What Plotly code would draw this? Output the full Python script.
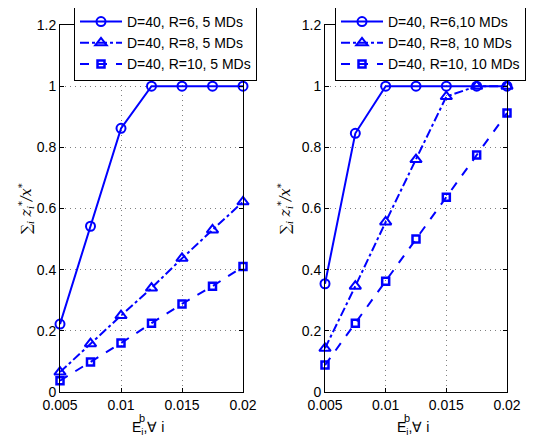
import plotly.graph_objects as go

x_vals = [0.005, 0.0075, 0.01, 0.0125, 0.015, 0.0175, 0.02]

left_r6 = [0.222, 0.542, 0.862, 1.0, 1.0, 1.0, 1.0]
left_r8 = [0.065, 0.158, 0.25, 0.34, 0.437, 0.53, 0.622]
left_r10 = [0.037, 0.098, 0.16, 0.225, 0.288, 0.346, 0.41]

right_r6 = [0.354, 0.846, 1.0, 1.0, 1.0, 1.0, 1.0]
right_r8 = [0.143, 0.346, 0.556, 0.76, 0.966, 1.0, 1.0]
right_r10 = [0.088, 0.225, 0.362, 0.50, 0.637, 0.775, 0.912]

left_names = ["D=40, R=6, 5 MDs", "D=40, R=8, 5 MDs", "D=40, R=10, 5 MDs"]
right_names = ["D=40, R=6,10 MDs", "D=40, R=8, 10 MDs", "D=40, R=10, 10 MDs"]

x_tickvals = [0.005, 0.01, 0.015, 0.02]
x_ticktext = ["0.005", "0.01", "0.015", "0.02"]
y_tickvals = [0, 0.2, 0.4, 0.6, 0.8, 1.0, 1.2]
y_ticktext = ["0", "0.2", "0.4", "0.6", "0.8", "1", "1.2"]

BLUE = "#0000FF"
FONT = "Liberation Sans, Arial, sans-serif"

styles = [
    dict(dash="solid", symbol="circle-open", size=9),
    dict(dash="dashdot", symbol="triangle-up-open", size=10),
    dict(dash="dash", symbol="square-open", size=7),
]

fig = go.Figure()

def add_series(ys, names, xa, ya, legend):
    for y, name, st in zip(ys, names, styles):
        fig.add_trace(go.Scatter(
            x=x_vals, y=y, name=name, mode="lines+markers",
            xaxis=xa, yaxis=ya, legend=legend, cliponaxis=False,
            line=dict(color=BLUE, width=2, dash=st["dash"]),
            marker=dict(symbol=st["symbol"], size=st["size"], color=BLUE,
                        line=dict(color=BLUE, width=2.5 if "square" in st["symbol"] else 2)),
        ))

add_series([left_r6, left_r8, left_r10], left_names, "x", "y", "legend")
add_series([right_r6, right_r8, right_r10], right_names, "x2", "y2", "legend2")

W, H = 538, 445
OFF = 8  # page body margin offset


def px(v):
    return (v - OFF) / W


def py(v):
    return 1 - (v - OFF) / H


ydom = [py(392), py(25)]

axis_common = dict(
    showline=True, linecolor="black", linewidth=1, mirror="ticks",
    ticks="inside", ticklen=4, tickcolor="black",
    showgrid=True, gridcolor="#808080", griddash="1px,4px", gridwidth=1,
    zeroline=False, tickfont=dict(family=FONT, size=14, color="black"),
    automargin=False,
)

legend_common = dict(xanchor="left", yanchor="top",
                     bgcolor="white", bordercolor="black", borderwidth=1,
                     font=dict(family=FONT, size=14, color="black"),
                     tracegroupgap=0, itemwidth=42)

fig.update_layout(
    width=W, height=H,
    margin=dict(l=0, r=0, t=0, b=0, pad=0, autoexpand=False),
    paper_bgcolor="white", plot_bgcolor="white",
    font=dict(family=FONT, size=14, color="black"),
    xaxis=dict(domain=[px(60), px(243)], range=[0.005, 0.02],
               tickvals=x_tickvals, ticktext=x_ticktext, anchor="y", **axis_common),
    yaxis=dict(domain=ydom, range=[0, 1.2], tickvals=y_tickvals,
               ticktext=y_ticktext, anchor="x", **axis_common),
    xaxis2=dict(domain=[px(325), px(507)], range=[0.005, 0.02],
                tickvals=x_tickvals, ticktext=x_ticktext, anchor="y2", **axis_common),
    yaxis2=dict(domain=ydom, range=[0, 1.2], tickvals=y_tickvals,
                ticktext=y_ticktext, anchor="x2", **axis_common),
    legend=dict(x=px(74), y=py(5), **legend_common),
    legend2=dict(x=px(335), y=py(5), **legend_common),
    showlegend=True,
)

ylabel = "<i>∑<sub>i</sub> z<sub>i</sub><sup>*</sup>/x<sup>*</sup></i>"

for x_left, yx in [(130, 14), (395, 285)]:
    fig.add_annotation(x=px(x_left), y=py(428), xref="paper", yref="paper",
                       xanchor="left", yanchor="middle",
                       text="E<sub>i</sub>,∀ i", showarrow=False,
                       font=dict(family=FONT, size=14, color="black"))
    fig.add_annotation(x=px(x_left + 7), y=py(418), xref="paper", yref="paper",
                       xanchor="left", yanchor="middle",
                       text="b", showarrow=False,
                       font=dict(family=FONT, size=11, color="black"))
    fig.add_annotation(x=px(yx), y=py(209), xref="paper", yref="paper",
                       text=ylabel, showarrow=False, textangle=-90,
                       font=dict(family="DejaVu Serif, serif", size=14, color="black"))

fig.write_html("out.html")
